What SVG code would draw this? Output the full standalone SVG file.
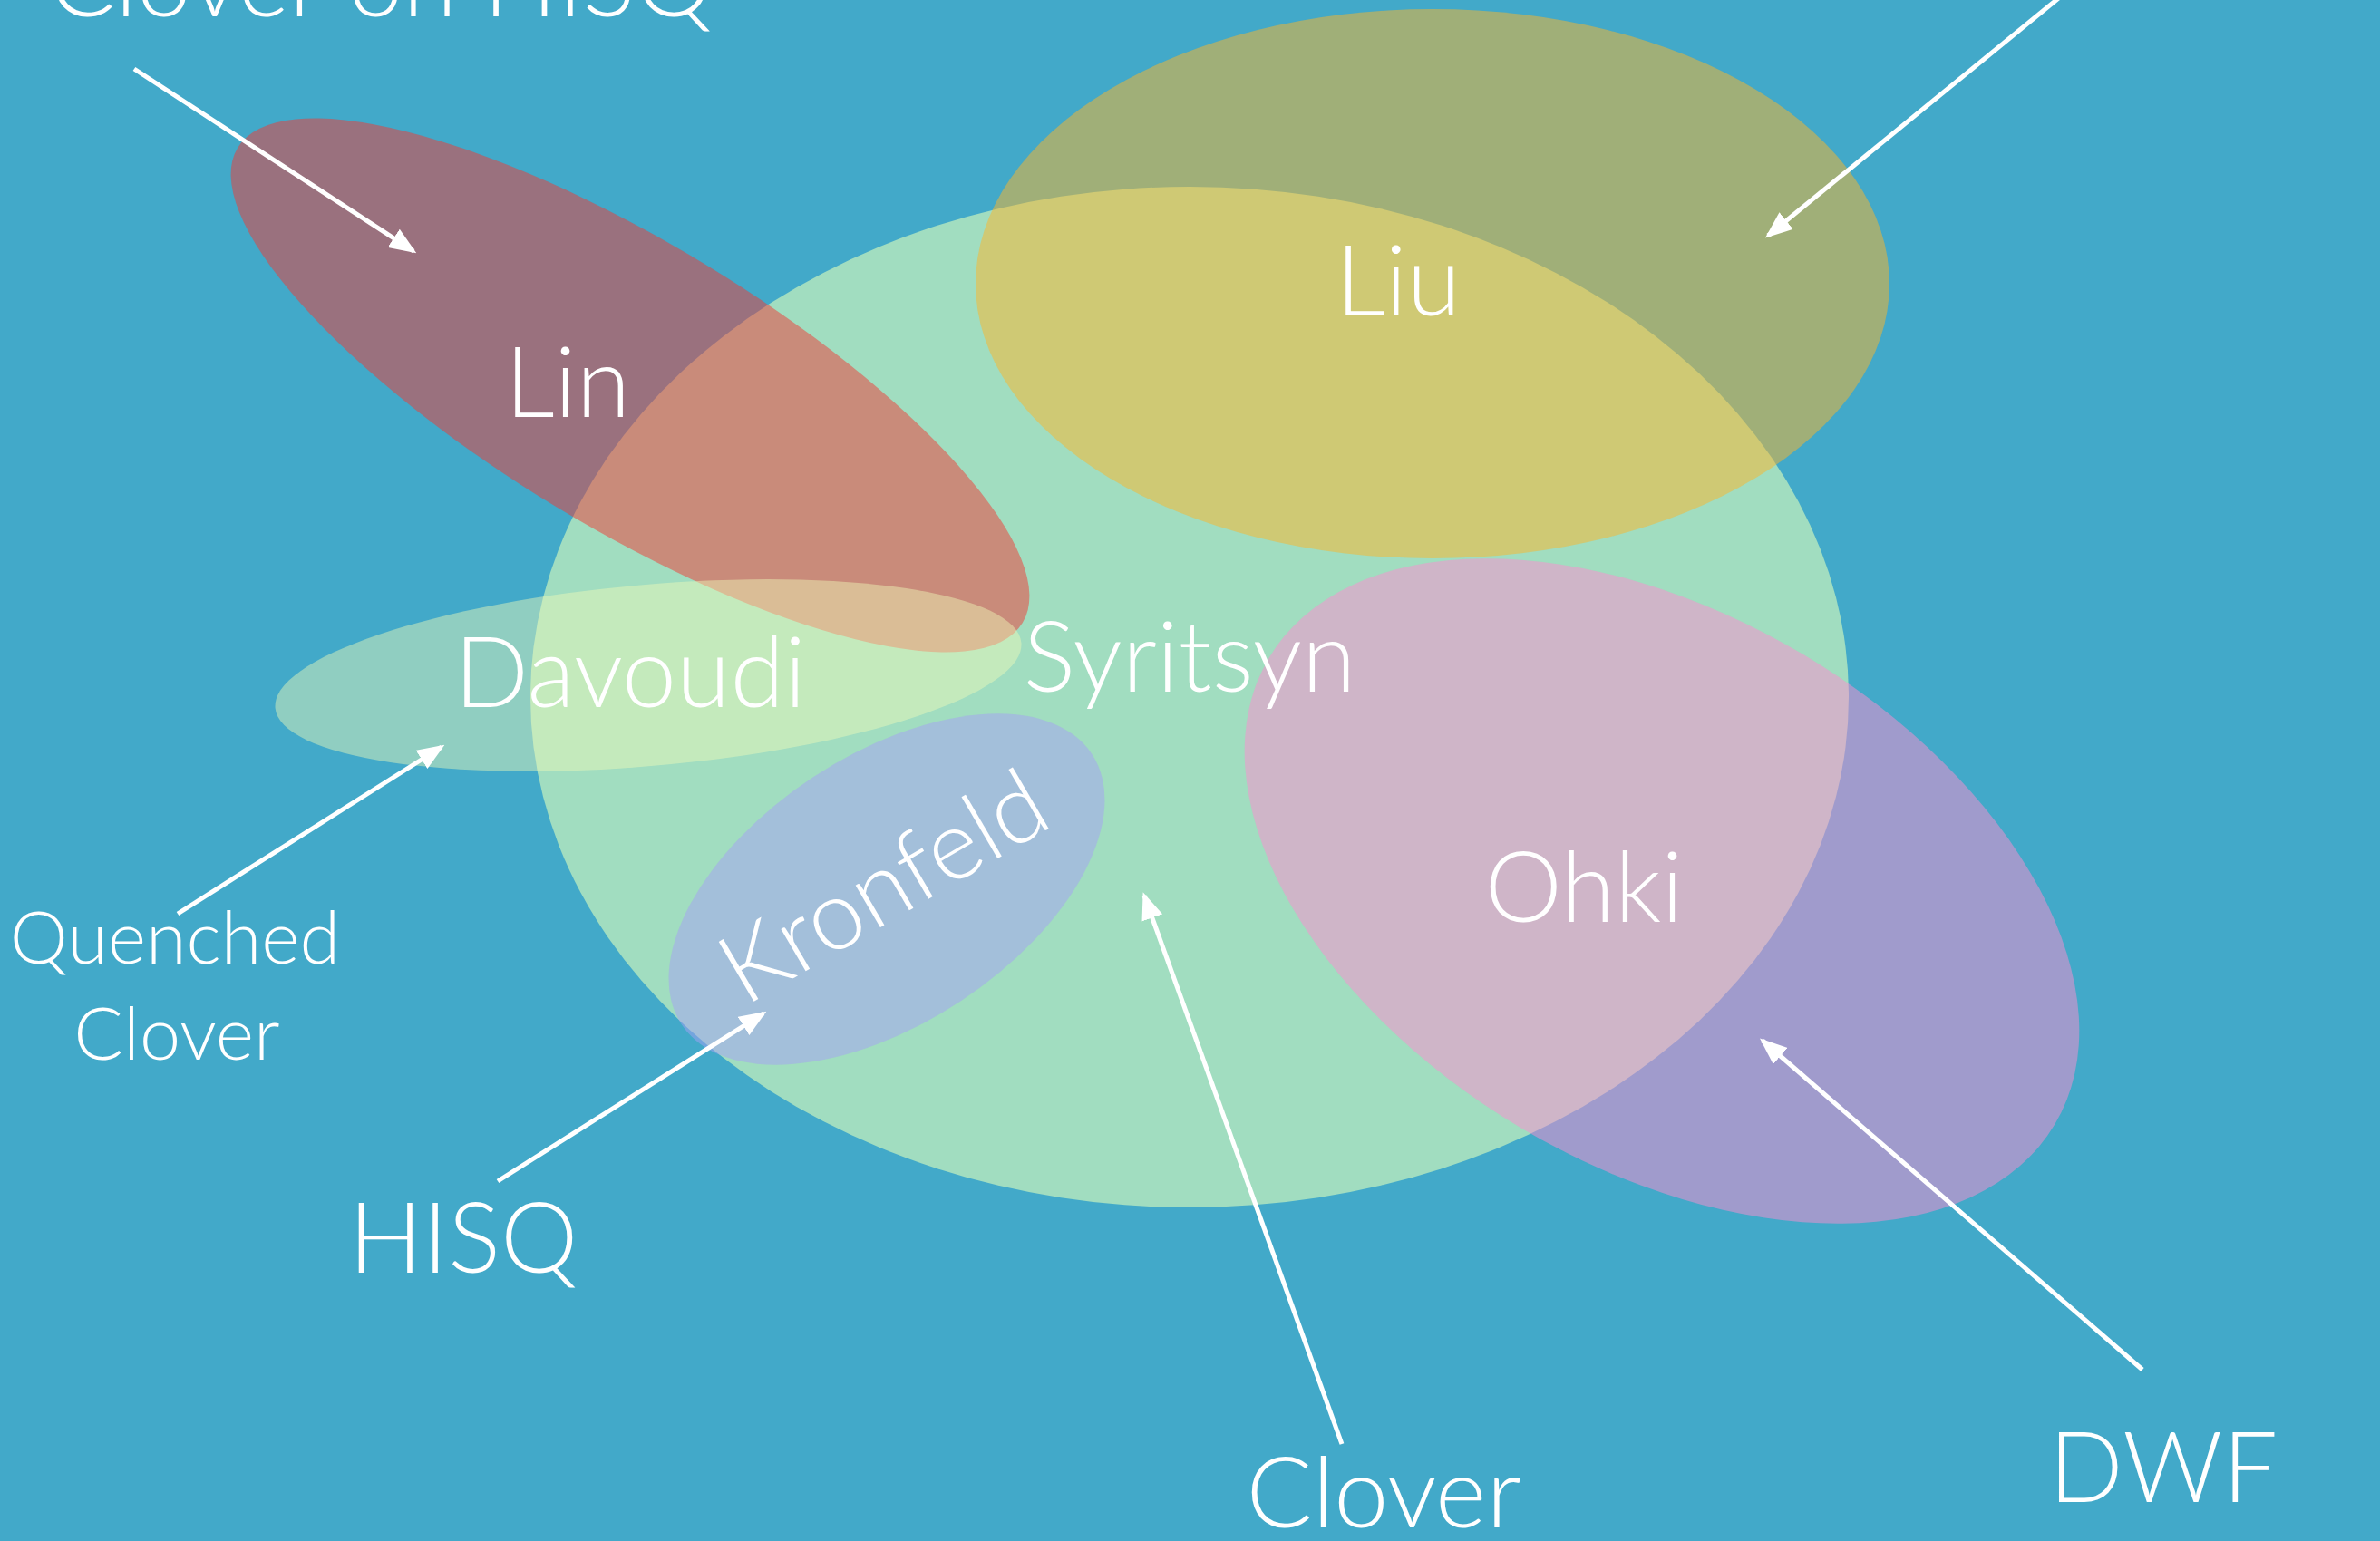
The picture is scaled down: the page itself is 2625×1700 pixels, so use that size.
<svg xmlns="http://www.w3.org/2000/svg" width="2625" height="1700" viewBox="0 0 2625 1700">
<defs>
<style>
.lbl{font-family:Lato,"Open Sans","Liberation Sans",sans-serif;font-weight:300;fill:#ffffff;text-anchor:middle}
.big{font-size:108px}
.sm{font-size:81px}
.arr{stroke:#ffffff;stroke-width:5;fill:none;marker-end:url(#ah)}
</style>
<marker id="ah" markerUnits="userSpaceOnUse" viewBox="0 0 30 24" markerWidth="30" markerHeight="24" refX="26" refY="12" orient="auto">
<path d="M0,0 L30,12 L0,24 z" fill="#ffffff"/>
</marker>
</defs>
<rect width="2625" height="1700" fill="#42A9C9"/>
<g id="clover-set">
<ellipse cx="1312" cy="769" rx="727" ry="563" fill="#A1DDC0"/>
</g>
<g id="liu-set">
<ellipse cx="1580" cy="313" rx="504" ry="303" fill="rgb(254,181,39)" fill-opacity="0.5"/>
</g>
<g id="lin-set">
<ellipse cx="0" cy="0" rx="506" ry="157" transform="translate(695,425) rotate(31.2)" fill="rgb(242,57,51)" fill-opacity="0.5"/>
</g>
<g id="davoudi-set">
<ellipse cx="0" cy="0" rx="413" ry="100" transform="translate(715,745) rotate(-5)" fill="rgb(240,250,185)" fill-opacity="0.45"/>
</g>
<g id="kronfeld-set">
<ellipse cx="0" cy="0" rx="271" ry="148" transform="translate(978,981) rotate(-33.4)" fill="rgb(165,162,244)" fill-opacity="0.5"/>
</g>
<g id="ohki-set">
<ellipse cx="0" cy="0" rx="504" ry="304" transform="translate(1833,983) rotate(30.7)" fill="rgb(253,142,208)" fill-opacity="0.5"/>
</g>
<g id="connectors">
<line class="arr" x1="148" y1="76" x2="456" y2="277"/>
<line class="arr" x1="2290" y1="-18" x2="1950" y2="260"/>
<line class="arr" x1="196" y1="1008" x2="487" y2="824"/>
<line class="arr" x1="549" y1="1303" x2="842" y2="1118"/>
<line class="arr" x1="1480" y1="1593" x2="1262" y2="988"/>
<line class="arr" x1="2363" y1="1511" x2="1944" y2="1148"/>
</g>
<g id="labels">
<text class="lbl big" x="420" y="18">Clover on HISQ</text>
<text class="lbl big" x="626" y="460">Lin</text>
<text class="lbl big" x="1542" y="348">Liu</text>
<text class="lbl big" x="695" y="780">Davoudi</text>
<text class="lbl big" x="1312" y="763">Syritsyn</text>
<text class="lbl big" x="1747" y="1017">Ohki</text>
<text class="lbl big" transform="translate(993,1010) rotate(-30.4)" x="0" y="0">Kronfeld</text>
<text class="lbl sm" x="193" y="1063">Quenched</text>
<text class="lbl sm" x="195" y="1169">Clover</text>
<text class="lbl big" x="511" y="1404">HISQ</text>
<text class="lbl big" x="1526" y="1685">Clover</text>
<text class="lbl big" x="2386" y="1657">DWF</text>
</g>
</svg>
